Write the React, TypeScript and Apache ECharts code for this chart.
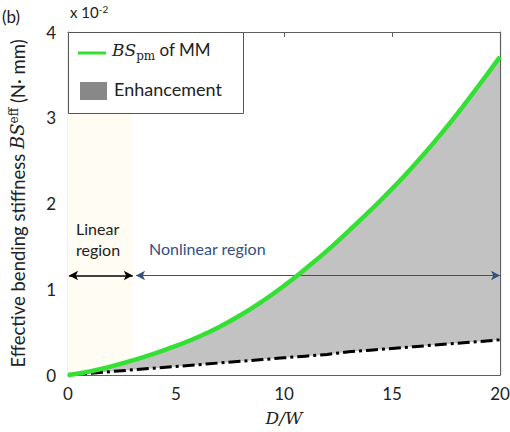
import React, { useEffect, useRef } from "react";
import * as echarts from "echarts";

const xValues = [0, 1, 2, 3, 4, 5, 6, 7, 8, 9, 10, 11, 12, 13, 14, 15, 16, 17, 18, 19, 20];
const bsPm = [0, 0.04, 0.1, 0.17, 0.25, 0.34, 0.44, 0.56, 0.7, 0.86, 1.04, 1.24, 1.45, 1.68, 1.92, 2.17, 2.44, 2.73, 3.04, 3.37, 3.71];
const linearBs = [0, 0.02, 0.04, 0.06, 0.08, 0.1, 0.12, 0.14, 0.16, 0.18, 0.2, 0.22, 0.24, 0.27, 0.29, 0.31, 0.33, 0.35, 0.37, 0.39, 0.41];
const xTicks = [0, 5, 10, 15, 20];
const yTicks = [0, 1, 2, 3, 4];
const linearEnd = 3;
const arrowY = 1.16;

const SANS = "Lato";
const SERIF = "DejaVu Serif";

export default function App() {
  const ref = useRef<HTMLDivElement>(null);
  useEffect(() => {
    document.body.style.margin = "0";
    const chart = echarts.init(ref.current!, null, { renderer: "svg" });
    const pairs = (arr: number[]) => xValues.map((x, i) => [x, arr[i]]);
    const axisColor = "#5f5f5f";
    const baseX = {
      type: "value",
      min: xTicks[0],
      max: xTicks[xTicks.length - 1],
      interval: 5,
      splitLine: { show: false },
      axisLine: { show: true, onZero: false, lineStyle: { color: axisColor, width: 1.2 } },
      axisTick: { show: true, inside: true, length: 5, lineStyle: { color: axisColor } },
    };
    const baseY = {
      type: "value",
      min: yTicks[0],
      max: yTicks[yTicks.length - 1],
      interval: 1,
      splitLine: { show: false },
      axisLine: { show: true, onZero: false, lineStyle: { color: axisColor, width: 1.2 } },
      axisTick: { show: true, inside: true, length: 5, lineStyle: { color: axisColor } },
    };
    chart.setOption({
      animation: false,
      grid: { left: 68, right: 10, top: 32, bottom: 57, containLabel: false, outerBoundsMode: "none" },
      xAxis: [
        {
          ...baseX,
          position: "bottom",
          axisLabel: { color: "#222", fontFamily: SANS, fontSize: 17, margin: 10 },
          name: "{it|D/W}",
          nameLocation: "middle",
          nameGap: 34,
          nameTextStyle: {
            rich: { it: { fontFamily: SERIF, fontStyle: "italic", fontSize: 17, color: "#222" } },
          },
        },
        { ...baseX, position: "top", axisLabel: { show: false } },
      ],
      yAxis: [
        {
          ...baseY,
          position: "left",
          axisLabel: { color: "#222", fontFamily: SANS, fontSize: 17, margin: 12 },
          name: "{n|Effective bending stiffness }{it|BS}{sup|eff}{n| (N· mm)}",
          nameLocation: "middle",
          nameGap: 38,
          nameRotate: 90,
          nameTextStyle: {
            rich: {
              n: { fontFamily: SANS, fontSize: 18.5, color: "#222", lineHeight: 22, verticalAlign: "top" },
              it: { fontFamily: SERIF, fontStyle: "italic", fontSize: 18, color: "#222", lineHeight: 22, verticalAlign: "top" },
              sup: { fontFamily: SERIF, fontSize: 12, color: "#222", lineHeight: 12, verticalAlign: "top" },
            },
          },
        },
        { ...baseY, position: "right", axisLabel: { show: false } },
      ],
      graphic: [
        {
          type: "text",
          left: 2,
          top: 8,
          style: { text: "(b)", font: `17px ${SANS}`, fill: "#222" },
        },
        {
          type: "text",
          left: 70,
          top: 4,
          style: {
            text: "{n|x 10}{s|-2}",
            rich: {
              n: { fontFamily: SANS, fontSize: 15, fill: "#222", lineHeight: 24, verticalAlign: "top" },
              s: { fontFamily: SANS, fontSize: 10, fill: "#222", lineHeight: 12, verticalAlign: "top" },
            },
          },
        },
        {
          type: "rect",
          z: 100,
          shape: { x: 68.5, y: 32.5, width: 175, height: 81 },
          style: { fill: "#fff", stroke: "#555", lineWidth: 1 },
        },
        {
          type: "line",
          z: 101,
          shape: { x1: 78, y1: 53, x2: 106, y2: 53 },
          style: { stroke: "#33e033", lineWidth: 3 },
        },
        {
          type: "text",
          z: 101,
          left: 112,
          top: 41,
          style: {
            text: "{it|BS}{sub|pm}{n| of MM}",
            rich: {
              it: { fontFamily: SERIF, fontStyle: "italic", fontSize: 17, fill: "#222", lineHeight: 22, verticalAlign: "top" },
              sub: { fontFamily: SERIF, fontSize: 12, fill: "#222", padding: [9, 0, 0, 0], verticalAlign: "top" },
              n: { fontFamily: SANS, fontSize: 17, fill: "#222", lineHeight: 22, verticalAlign: "top" },
            },
          },
        },
        {
          type: "rect",
          z: 101,
          shape: { x: 80, y: 82, width: 27, height: 18 },
          style: { fill: "#888888" },
        },
        {
          type: "text",
          z: 101,
          left: 114,
          top: 80,
          style: { text: "Enhancement", font: `18px ${SANS}`, fill: "#222" },
        },
        {
          type: "text",
          z: 101,
          left: 76,
          top: 218,
          style: { text: "Linear\nregion", font: `16px ${SANS}`, fill: "#222", lineHeight: 21 },
        },
        {
          type: "text",
          z: 101,
          left: 149,
          top: 240,
          style: { text: "Nonlinear region", font: `16px ${SANS}`, fill: "#33507f" },
        },
      ],
      series: [
        {
          type: "line",
          data: pairs(bsPm),
          symbol: "none",
          smooth: true,
          lineStyle: { opacity: 0 },
          areaStyle: { color: "#c2c2c2", opacity: 1 },
          z: 2,
          markArea: {
            silent: true,
            itemStyle: { color: "#fffdf3" },
            data: [[{ xAxis: 0 }, { xAxis: linearEnd }]],
            z: 1,
          },
        },
        {
          type: "line",
          data: pairs(linearBs),
          symbol: "none",
          lineStyle: { color: "#000", width: 3, type: [12, 4, 3, 4] },
          areaStyle: { color: "#ffffff", opacity: 1 },
          z: 5,
        },
        {
          type: "line",
          data: pairs(bsPm),
          symbol: "none",
          smooth: true,
          lineStyle: { color: "#33e033", width: 4.5 },
          z: 6,
          markLine: {
            silent: true,
            symbol: ["arrow", "arrow"],
            symbolSize: [7, 9],
            label: { show: false },
            data: [
              [
                { coord: [0.05, arrowY], lineStyle: { color: "#000", width: 1.5, type: "solid" } },
                { coord: [linearEnd, arrowY] },
              ],
              [
                { coord: [linearEnd + 0.15, arrowY], lineStyle: { color: "#33507f", width: 1.2, type: "solid" } },
                { coord: [20, arrowY] },
              ],
            ],
          },
        },
      ],
    });
    return () => chart.dispose();
  }, []);
  return <div ref={ref} style={{ width: 510, height: 432 }} />;
}
